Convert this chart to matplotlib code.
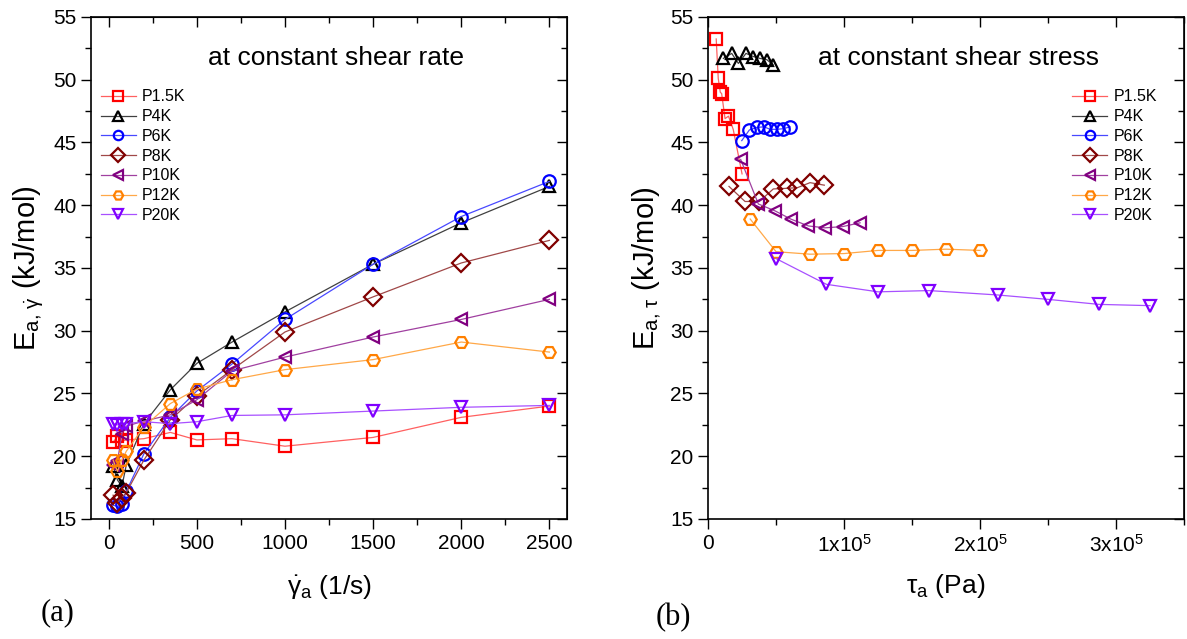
import numpy as np
import matplotlib
matplotlib.use('Agg')
import matplotlib.pyplot as plt
from matplotlib.ticker import MultipleLocator, FuncFormatter, NullFormatter

plt.rcParams['font.family'] = ['Liberation Sans', 'DejaVu Sans']
plt.rcParams['mathtext.fontset'] = 'custom'
plt.rcParams['mathtext.rm'] = 'Liberation Sans'
plt.rcParams['mathtext.it'] = 'Liberation Sans'

labels = ['P1.5K', 'P4K', 'P6K', 'P8K', 'P10K', 'P12K', 'P20K']
markers = ['s', '^', 'o', 'D', '<', 'H', 'v']
mcolors = ['#ff0000', '#000000', '#0000ff', '#800000', '#800080', '#ff8000', '#8000ff']
lcolors = ['#ff6060', '#404040', '#4848ff', '#a04848', '#a040a0', '#ffa848', '#a850ff']

# (a) activation energy at constant shear rate
rate = [25, 50, 75, 100, 200, 350, 500, 700, 1000, 1500, 2000, 2500]
ea_rate = {
    'P1.5K': [21.1, 21.6, 21.2, 21.3, 21.4, 21.9, 21.3, 21.4, 20.8, 21.5, 23.1, 24.0],
    'P4K':   [19.2, 18.1, 17.6, 19.3, 22.6, 25.3, 27.4, 29.1, 31.5, 35.3, 38.6, 41.5],
    'P6K':   [16.1, 16.0, 16.2, 17.2, 20.2, 23.1, 25.2, 27.35, 30.9, 35.3, 39.1, 41.9],
    'P8K':   [16.9, 16.3, 16.7, 17.1, 19.7, 22.9, 24.8, 26.9, 29.9, 32.7, 35.4, 37.2],
    'P10K':  [19.3, 19.6, 21.8, 22.4, 22.8, 23.3, 24.5, 26.8, 27.9, 29.5, 30.9, 32.5],
    'P12K':  [19.7, 18.8, 19.7, 20.4, 22.35, 24.2, 25.35, 26.1, 26.9, 27.7, 29.1, 28.3],
    'P20K':  [22.6, 22.5, 22.6, 22.6, 22.75, 22.6, 22.75, 23.25, 23.3, 23.6, 23.9, 24.05],
}

# (b) activation energy at constant shear stress
stress = {
    'P1.5K': [6e3, 7.5e3, 9e3, 10e3, 12.5e3, 15e3, 18.5e3, 25e3],
    'P4K':   [11.3e3, 17.4e3, 22.3e3, 27.9e3, 33.3e3, 38.2e3, 43.2e3, 47.6e3],
    'P6K':   [24.8e3, 30.4e3, 35.8e3, 41.2e3, 45.6e3, 50.5e3, 55.4e3, 60.3e3],
    'P8K':   [15.4e3, 27.2e3, 37.7e3, 48e3, 57.9e3, 65.7e3, 75e3, 85.5e3],
    'P10K':  [24e3, 37e3, 49.3e3, 60.8e3, 73.8e3, 86e3, 99e3, 111.8e3],
    'P12K':  [31e3, 50e3, 75e3, 100e3, 125e3, 150e3, 175e3, 200e3],
    'P20K':  [50e3, 87e3, 125e3, 162.5e3, 213e3, 250e3, 287.5e3, 325e3],
}
ea_stress = {
    'P1.5K': [53.25, 50.1, 49.0, 48.9, 46.9, 47.1, 46.05, 42.5],
    'P4K':   [51.7, 52.1, 51.3, 52.1, 51.85, 51.7, 51.6, 51.2],
    'P6K':   [45.15, 46.0, 46.2, 46.25, 46.05, 46.05, 46.1, 46.25],
    'P8K':   [41.5, 40.3, 40.3, 41.3, 41.35, 41.4, 41.8, 41.6],
    'P10K':  [43.65, 40.1, 39.55, 38.9, 38.35, 38.2, 38.3, 38.6],
    'P12K':  [38.9, 36.3, 36.1, 36.15, 36.4, 36.4, 36.5, 36.4],
    'P20K':  [35.75, 33.7, 33.1, 33.2, 32.85, 32.5, 32.1, 32.0],
}

fig = plt.figure(figsize=(11.87, 6.39), dpi=100)
ax1 = fig.add_axes([0.0767, 0.1878, 0.401, 0.7856])
ax2 = fig.add_axes([0.5965, 0.1878, 0.401, 0.7856])

for i, lab in enumerate(labels):
    ax1.plot(rate, ea_rate[lab], color=lcolors[i], lw=0.9, marker=markers[i],
             ms=9, mfc='none', mec=mcolors[i], mew=1.6, label=lab)
    ax2.plot(stress[lab], ea_stress[lab], color=lcolors[i], lw=0.9, marker=markers[i],
             ms=9, mfc='none', mec=mcolors[i], mew=1.6, label=lab)

def style(ax, xmaj, xmin):
    ax.set_ylim(15, 55)
    ax.yaxis.set_major_locator(MultipleLocator(5))
    ax.yaxis.set_minor_locator(MultipleLocator(2.5))
    ax.xaxis.set_major_locator(MultipleLocator(xmaj))
    ax.xaxis.set_minor_locator(MultipleLocator(xmin))
    ax.tick_params(which='both', labelsize=15, direction='out')
    ax.tick_params(which='major', length=7, width=1)
    ax.tick_params(which='minor', length=4, width=1)
    for s in ax.spines.values():
        s.set_linewidth(1.2)
    # inward ticks on top and right spines
    top = ax.secondary_xaxis('top')
    top.xaxis.set_major_locator(MultipleLocator(xmaj))
    top.xaxis.set_minor_locator(MultipleLocator(xmin))
    top.xaxis.set_major_formatter(NullFormatter())
    top.tick_params(which='both', direction='in', width=1)
    top.tick_params(which='major', length=7)
    top.tick_params(which='minor', length=4)
    right = ax.secondary_yaxis('right')
    right.yaxis.set_major_locator(MultipleLocator(5))
    right.yaxis.set_minor_locator(MultipleLocator(2.5))
    right.yaxis.set_major_formatter(NullFormatter())
    right.tick_params(which='both', direction='in', width=1)
    right.tick_params(which='major', length=7)
    right.tick_params(which='minor', length=4)

ax1.set_xlim(-100, 2600)
style(ax1, 500, 250)
ax1.set_xlabel(r'$\mathregular{\dot{\gamma}_a}$ (1/s)', fontsize=19, labelpad=15)
ax1.set_ylabel(r'E$_{\mathregular{a},\,\dot{\gamma}}$ (kJ/mol)', fontsize=21, labelpad=5)
ax1.text(0.245, 0.905, 'at constant shear rate', transform=ax1.transAxes, fontsize=19)

ax2.set_xlim(0, 3.5e5)
style(ax2, 1e5, 5e4)
ax2.xaxis.set_major_formatter(FuncFormatter(
    lambda v, p: '0' if v == 0 else r'%dx10$^{5}$' % round(v / 1e5)))
ax2.set_xlabel(r'$\mathregular{\tau_a}$ (Pa)', fontsize=19, labelpad=12)
ax2.set_ylabel(r'E$_{\mathregular{a},\,\tau}$ (kJ/mol)', fontsize=21, labelpad=5)
ax2.text(0.23, 0.905, 'at constant shear stress', transform=ax2.transAxes, fontsize=19)

leg_kw = dict(loc='upper left', frameon=False, fontsize=11.5, markerscale=0.75,
              handlelength=2.2, labelspacing=0.3, borderaxespad=0.2, handletextpad=0.4)
ax1.legend(bbox_to_anchor=(0.0, 0.875), **leg_kw)
ax2.legend(bbox_to_anchor=(0.745, 0.875), **leg_kw)

fig.text(0.034, 0.03, '(a)', fontsize=22, family='Liberation Serif')
fig.text(0.552, 0.022, '(b)', fontsize=22, family='Liberation Serif')

fig.savefig('out.png', dpi=100)
